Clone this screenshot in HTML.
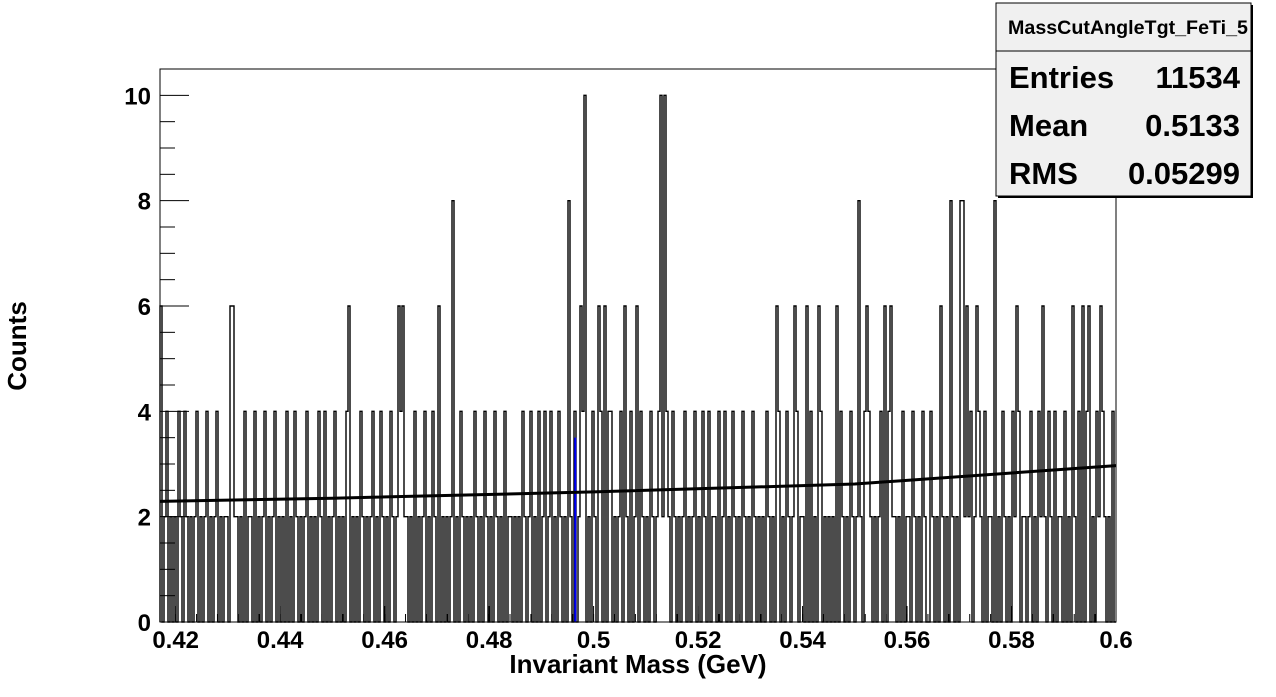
<!DOCTYPE html>
<html><head><meta charset="utf-8"><style>
body{margin:0;background:#fff;width:1276px;height:692px;overflow:hidden;font-family:"Liberation Sans",sans-serif}
svg text{font-family:"Liberation Sans",sans-serif;font-weight:bold}
</style></head><body>
<svg id="chart" width="1276" height="692">
<rect x="160" y="69" width="956" height="553" fill="#fff" stroke="#000" stroke-width="1"/>
<g id="bars"></g>
<g id="fitg"></g>
<g id="axes"></g>
<text x="638" y="673" text-anchor="middle" font-size="26">Invariant Mass (GeV)</text>
<text transform="translate(26,346) rotate(-90)" text-anchor="middle" font-size="26">Counts</text>
<g>
<rect x="998" y="5" width="255" height="193" fill="#000"/>
<rect x="996" y="3" width="255" height="193" fill="#f0f0f0" stroke="#000" stroke-width="1"/>
<line x1="996" y1="51" x2="1251" y2="51" stroke="#000"/>
<text x="1128" y="34" text-anchor="middle" font-size="19" textLength="240" lengthAdjust="spacingAndGlyphs">MassCutAngleTgt_FeTi_5</text>
<text x="1009" y="88" font-size="31">Entries</text>
<text x="1240" y="88" text-anchor="end" font-size="31">11534</text>
<text x="1009" y="136" font-size="31">Mean</text>
<text x="1240" y="136" text-anchor="end" font-size="31">0.5133</text>
<text x="1009" y="184" font-size="31">RMS</text>
<text x="1240" y="184" text-anchor="end" font-size="31">0.05299</text>
</g>
</svg>
<script>
const xMin = 0.417, xMax = 0.6, yMin = 0, yMax = 10.5;
const baseRows = [
"101201010210210101201012010120101102011010201102",
"010120101201010201021010120101021020101201010210",
"101021010120102101021010201101020101201021010101",
"012010210101021010210102101020110101021012010201",
"201201021010210201021010210120102201012021020110",
"210102101201021021010120101201021020110201201021",
"010210102101010210101201021010201101020101201010",
"101021010210101020210101201020110102011021010210",
"021010210102101020101201021020110201021010210201",
"101201021010210201102010210201021010210210102010"
];
const peakBins = [0,35,36,94,119,121,139,146,204,210,212,219,222,232,238,250,252,308,317,323,329,338,349,353,362,365,390,395,400,401,403,408,417,428,441,456,461,464,470];
const peakHalf = [3,3,3,3,3,3,3,4,4,3,5,3,3,3,3,5,5,3,3,3,3,3,4,3,3,3,3,4,4,4,3,3,4,3,3,3,3,3,3];
const fitX = [0.417,0.45,0.5,0.55,0.6];
const fitY = [2.29,2.35,2.47,2.62,2.97];
const xTicks = [0.42,0.44,0.46,0.48,0.5,0.52,0.54,0.56,0.58,0.6];
const xTickLabels = ["0.42","0.44","0.46","0.48","0.5","0.52","0.54","0.56","0.58","0.6"];
const yTicks = [0,2,4,6,8,10];
const yTickLabels = ["0","2","4","6","8","10"];
const blueX = 0.4965, blueY = 3.5;

const X0=160,X1=1116,Y0=622,Y1=69;
const sx=v=>X0+(v-xMin)/(xMax-xMin)*(X1-X0);
const sy=v=>Y0-(v-yMin)/(yMax-yMin)*(Y0-Y1);
const NS="http://www.w3.org/2000/svg";
const mk=(t,a,p)=>{const e=document.createElementNS(NS,t);for(const k in a)e.setAttribute(k,a[k]);p.appendChild(e);return e;};

const counts = baseRows.join("").slice(0,478).split("").map(c=>2*(+c));
peakBins.forEach((b,i)=>{counts[b]=2*peakHalf[i];});
const n=counts.length, bw=(xMax-xMin)/n;
let d="M"+sx(xMin)+","+sy(0);
counts.forEach((c,i)=>{const a=sx(xMin+i*bw),b=sx(xMin+(i+1)*bw);d+=" L"+a+","+sy(c)+" L"+b+","+sy(c);});
d+=" L"+sx(xMax)+","+sy(0);
const bars=document.getElementById('bars');
const hp=mk('path',{d:d,fill:'none',stroke:'#000','stroke-width':1.4},bars);


const bl=mk('line',{x1:sx(blueX),x2:sx(blueX),y1:sy(0),y2:sy(blueY),stroke:'#0000ff','stroke-width':2},bars);



const fp=mk('polyline',{points:fitX.map((v,i)=>sx(v)+","+sy(fitY[i])).join(" "),fill:'none',stroke:'#000','stroke-width':3},document.getElementById('fitg'));



const ax=document.getElementById('axes');
mk('rect',{x:X0,y:Y1,width:X1-X0,height:Y0-Y1,fill:'none',stroke:'#000'},ax);
yTicks.forEach((v,i)=>{
  mk('line',{x1:X0,x2:X0+29,y1:sy(v),y2:sy(v),stroke:'#000'},ax);
  const t=mk('text',{x:151,y:sy(v)+9,'text-anchor':'end','font-size':24},ax);t.textContent=yTickLabels[i];
  
  
});
for(let v=0.5;v<=10.25;v+=0.5){ if(v%2!==0) mk('line',{x1:X0,x2:X0+15,y1:sy(v),y2:sy(v),stroke:'#000'},ax); }
xTicks.forEach((v,i)=>{
  mk('line',{x1:sx(v),x2:sx(v),y1:Y0,y2:Y0-16,stroke:'#000'},ax);
  const t=mk('text',{x:sx(v),y:648,'text-anchor':'middle','font-size':24},ax);t.textContent=xTickLabels[i];
  
  
});
for(let k=Math.ceil(xMin/0.004);k*0.004<=xMax+1e-9;k++){ mk('line',{x1:sx(k*0.004),x2:sx(k*0.004),y1:Y0,y2:Y0-8,stroke:'#000'},ax); }
</script>
</body></html>
